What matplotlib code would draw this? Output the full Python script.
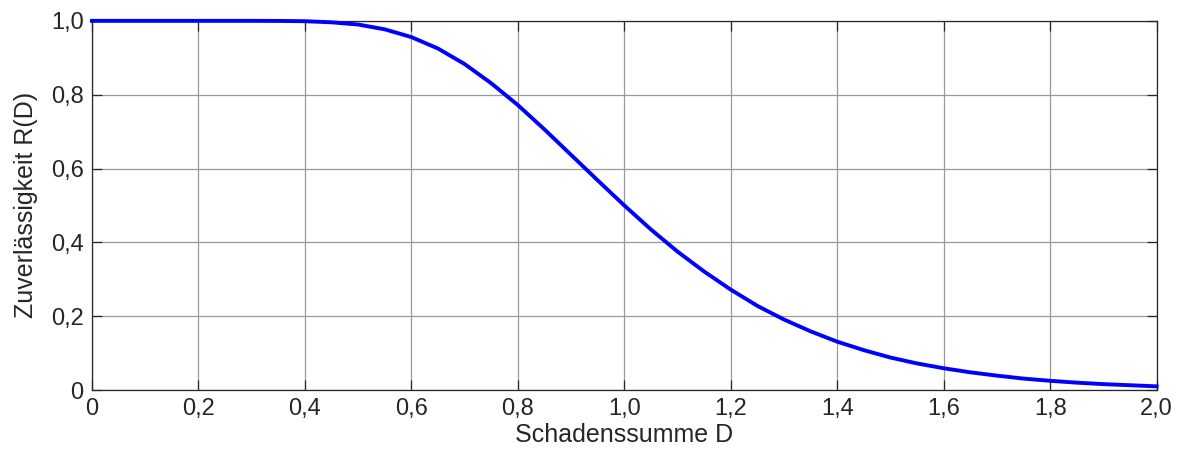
import numpy as np
import matplotlib
matplotlib.use("Agg")
import matplotlib.pyplot as plt
from matplotlib.ticker import FuncFormatter

# ===== Daten =====
schadenssumme = [0.00, 0.05, 0.10, 0.15, 0.20, 0.25, 0.30, 0.35, 0.40, 0.45,
                 0.50, 0.55, 0.60, 0.65, 0.70, 0.75, 0.80, 0.85, 0.90, 0.95,
                 1.00, 1.05, 1.10, 1.15, 1.20, 1.25, 1.30, 1.35, 1.40, 1.45,
                 1.50, 1.55, 1.60, 1.65, 1.70, 1.75, 1.80, 1.85, 1.90, 1.95, 2.00]
zuverlaessigkeit = [1.000, 1.000, 1.000, 1.000, 1.000, 1.000, 1.000, 0.9998, 0.999, 0.996,
                    0.990, 0.977, 0.956, 0.925, 0.883, 0.831, 0.772, 0.706, 0.637, 0.568,
                    0.500, 0.435, 0.375, 0.321, 0.272, 0.228, 0.191, 0.159, 0.131, 0.108,
                    0.088, 0.072, 0.059, 0.048, 0.039, 0.031, 0.025, 0.020, 0.016, 0.013, 0.010]
x_ticks = [0, 0.2, 0.4, 0.6, 0.8, 1.0, 1.2, 1.4, 1.6, 1.8, 2.0]
y_ticks = [0, 0.2, 0.4, 0.6, 0.8, 1.0]

plt.rcParams["font.family"] = ["Liberation Sans", "DejaVu Sans"]
plt.rcParams["font.size"] = 17


def komma(v, pos):
    if abs(v) < 1e-9:
        return "0"
    return f"{v:.1f}".replace(".", ",")


fig = plt.figure(figsize=(11.79, 4.53), dpi=100)
ax = fig.add_axes([0.078, 0.139, 0.903, 0.815])

ax.plot(schadenssumme, zuverlaessigkeit, color="#0000ff", lw=2.8,
        solid_joinstyle="miter", clip_on=False, zorder=3)

ax.set_xlim(0, 2.0)
ax.set_ylim(0, 1.0)
ax.set_xticks(x_ticks)
ax.set_yticks(y_ticks)
ax.xaxis.set_major_formatter(FuncFormatter(komma))
ax.yaxis.set_major_formatter(FuncFormatter(komma))

ax.grid(True, color="#9a9a9a", lw=0.9)
ax.set_axisbelow(True)
ax.tick_params(direction="in", length=7.5, width=0.9, color="#262626",
               top=True, right=True, labelsize=17, labelcolor="#262626", pad=6)
for s in ax.spines.values():
    s.set_color("#262626")
    s.set_linewidth(0.9)

ax.set_xlabel("Schadenssumme D", fontsize=18, color="#262626", labelpad=2)
ax.set_ylabel("Zuverlässigkeit R(D)", fontsize=18, color="#262626", labelpad=9)

fig.savefig("out.png", dpi=100)
plt.close(fig)
